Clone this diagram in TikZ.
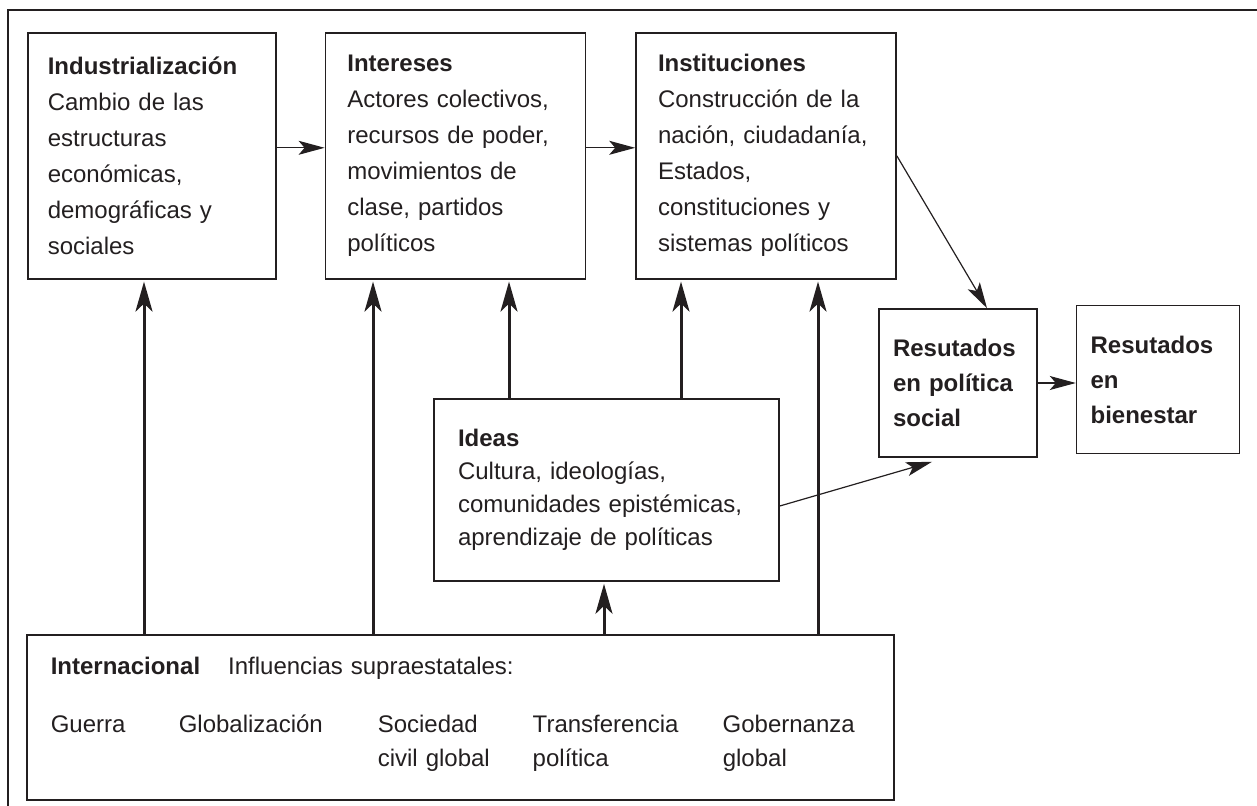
\documentclass[tikz,border=0pt]{standalone}
\usepackage{fontspec}
\setmainfont{Liberation Sans}
\usetikzlibrary{arrows.meta, positioning}
\definecolor{ink}{RGB}{35,31,32}

\begin{document}
\begin{tikzpicture}[
x=0.5pt, y=-0.5pt,
font=\fontsize{12}{18}\selectfont,
every node/.style={text=ink},
block/.style={rectangle, draw=ink, line width=0.8pt, align=left, inner ysep=0pt},
topbox/.style={block, text width=108pt, inner xsep=11pt, minimum height=123pt},
outcome/.style={block, text width=65pt, inner xsep=7pt, minimum height=74pt, font=\fontsize{12}{17.5}\selectfont\bfseries},
arrow/.style={draw=ink, -{Stealth[length=13pt, width=7pt, inset=3pt]}, line width=0.6pt},
bigarrow/.style={draw=ink, -{Stealth[length=15pt, width=8.5pt, inset=4pt]}, line width=1.5pt, shorten >=1pt}
]
\useasboundingbox (0,0) rectangle (1257,806);
\draw[ink, line width=0.8pt] (8,806) |- (1257,10);

\node[topbox, text width=104pt, inner xsep=10pt, anchor=north west] (ind) at (27,32) {\textbf{Industrialización}\\Cambio de las\\estructuras\\económicas,\\demográficas y\\sociales};
\node[topbox, right=24pt of ind] (int) {\textbf{Intereses}\\Actores colectivos,\\recursos de poder,\\movimientos de\\clase, partidos\\políticos};
\node[topbox, right=24.5pt of int] (inst) {\textbf{Instituciones}\\Construcción de la\\nación, ciudadanía,\\Estados,\\constituciones y\\sistemas políticos};
\node[outcome] (social) at (958,383) {Resutados\\en política\\social};
\node[outcome, text width=67.5pt, right=19pt of social, yshift=1.75pt] (wel) {Resutados\\en\\bienestar};
\node[block, text width=148.5pt, inner xsep=12pt, minimum height=91pt, font=\fontsize{12}{16.5}\selectfont] (ideas) at (606.5,490) {\textbf{Ideas}\\Cultura, ideologías,\\comunidades epistémicas,\\aprendizaje de políticas};
\node[block, text width=409.5pt, inner xsep=12pt, minimum height=82.5pt, font=\fontsize{12}{17}\selectfont, anchor=north west] (intl) at (26,634) {\textbf{Internacional}\hspace{14pt}Influencias supraestatales:\\[12pt]
\begin{tabular}[t]{@{}p{64pt}@{}p{99.5pt}@{}p{77.5pt}@{}p{95pt}@{}l@{}}
Guerra & Globalización & Sociedad & Transferencia & Gobernanza\\
 & & civil global & política & global
\end{tabular}};

\draw[arrow] ([yshift=4pt]ind.east) -- ([yshift=4pt]int.west);
\draw[arrow] ([yshift=4pt]int.east) -- ([yshift=4pt]inst.west);
\draw[arrow] (inst.east) -- ([xshift=14.5pt]social.north);
\draw[arrow] (social.east) -- (social.east -| wel.west);
\draw[arrow] ([yshift=-8pt]ideas.east) -- ([xshift=-13pt, yshift=-2pt]social.south);

\draw[bigarrow] (intl.north -| 144,0) -- (ind.south -| 144,0);
\draw[bigarrow] (intl.north -| 373,0) -- (int.south -| 373,0);
\draw[bigarrow] (intl.north -| 604,0) -- (ideas.south -| 604,0);
\draw[bigarrow] (intl.north -| 818,0) -- (inst.south -| 818,0);
\draw[bigarrow] (ideas.north -| 509,0) -- (int.south -| 509,0);
\draw[bigarrow] (ideas.north -| 681,0) -- (inst.south -| 681,0);

\end{tikzpicture}
\end{document}
